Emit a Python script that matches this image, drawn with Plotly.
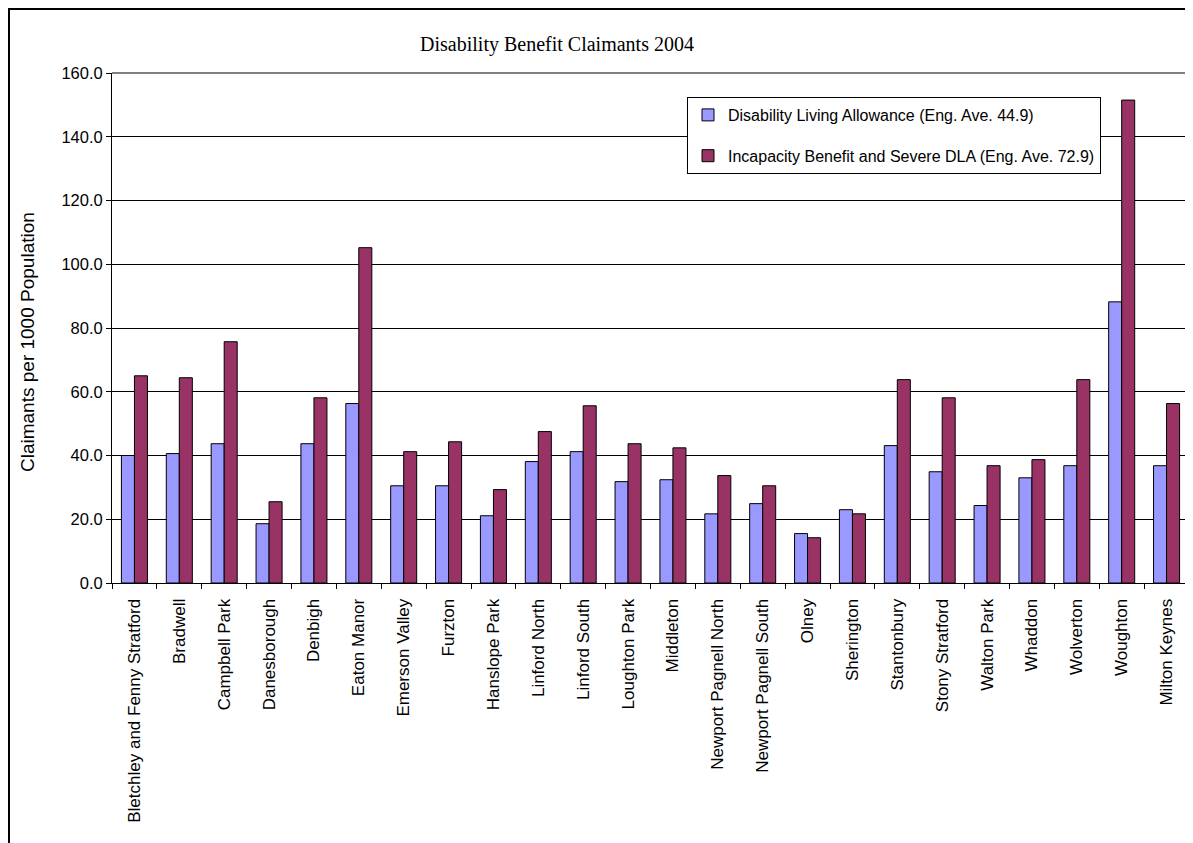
import plotly.graph_objects as go

categories = ["Bletchley and Fenny Stratford", "Bradwell", "Campbell Park", "Danesborough",
              "Denbigh", "Eaton Manor", "Emerson Valley", "Furzton", "Hanslope Park",
              "Linford North", "Linford South", "Loughton Park", "Middleton",
              "Newport Pagnell North", "Newport Pagnell South", "Olney", "Sherington",
              "Stantonbury", "Stony Stratford", "Walton Park", "Whaddon", "Wolverton",
              "Woughton", "Milton Keynes"]

dla = [40.0, 40.6, 43.7, 18.6, 43.7, 56.3, 30.5, 30.5, 21.1, 38.1, 41.2, 31.8, 32.4,
       21.7, 24.9, 15.5, 23.0, 43.1, 34.9, 24.3, 33.0, 36.8, 88.2, 36.8]
ib = [65.0, 64.4, 75.7, 25.5, 58.1, 105.2, 41.2, 44.3, 29.3, 47.5, 55.6, 43.7, 42.4,
      33.7, 30.5, 14.2, 21.7, 63.8, 58.1, 36.8, 38.7, 63.8, 151.5, 56.3]

series_names = ["Disability Living Allowance (Eng. Ave. 44.9)",
                "Incapacity Benefit and Severe DLA (Eng. Ave. 72.9)"]
colors = ["#9999FF", "#993366"]

# page body has an 8px margin; figure coordinates are page coordinates minus 8
OFF = 8
W, H = 1193 - OFF, 843 - OFF
L, T = 112 - OFF, 73 - OFF
R = W - (1189 - OFF)
B = H - (583 - OFF)
pw, ph = W - L - R, H - T - B

def px(xp):
    return (xp - OFF - L) / pw

def py(yp):
    return 1 - (yp - OFF - T) / ph

fig = go.Figure()
for i, (name, vals) in enumerate(zip(series_names, [dla, ib])):
    fig.add_trace(go.Bar(
        x=categories, y=vals, name=name, legendgroup=f"g{i}",
        marker=dict(color=colors[i], line=dict(color="black", width=1)),
    ))

fnt = "Arial, Liberation Sans, sans-serif"
fig.update_layout(
    width=W, height=H,
    margin=dict(l=L, r=R, t=T, b=B, autoexpand=False),
    paper_bgcolor="white", plot_bgcolor="white",
    barmode="group", bargap=0.42, bargroupgap=0,
    font=dict(family=fnt, color="black"),
    showlegend=True,
    legend=dict(
        x=px(687), y=py(97), xanchor="left", yanchor="top",
        bgcolor="white", bordercolor="black", borderwidth=1,
        font=dict(family=fnt, size=16, color="black"),
        tracegroupgap=17, itemwidth=30,
    ),
    title=dict(
        text="Disability Benefit Claimants 2004",
        font=dict(family="Times New Roman, Liberation Serif, serif", size=20, color="black"),
        x=(557 - OFF) / W, xanchor="center", y=1 - (44 - OFF) / H, yanchor="middle",
    ),
    xaxis=dict(
        type="category", showline=True, linecolor="black", linewidth=1,
        ticks="outside", ticklen=5, tickcolor="black", tickson="boundaries",
        tickangle=-90, tickfont=dict(family=fnt, size=17, color="black"),
        ticklabelstandoff=8, showgrid=False,
    ),
    yaxis=dict(
        range=[0, 160], tickvals=[0, 20, 40, 60, 80, 100, 120, 140, 160],
        tickformat=".1f", showline=True, linecolor="black", linewidth=1,
        ticks="outside", ticklen=5, tickcolor="black",
        tickfont=dict(family=fnt, size=16.5, color="black"),
        showgrid=True, gridcolor="black", gridwidth=1, zeroline=False,
    ),
    annotations=[dict(
        text="Claimants per 1000 Population", textangle=-90,
        xref="paper", yref="paper", x=px(27), y=py(342),
        xanchor="center", yanchor="middle", showarrow=False,
        font=dict(family=fnt, size=19, color="black"),
    )],
    shapes=[
        dict(type="line", xref="paper", yref="paper", x0=0, x1=1, y0=1, y1=1,
             line=dict(color="#808080", width=2)),
        dict(type="line", xref="paper", yref="paper", x0=1, x1=1, y0=0, y1=1,
             line=dict(color="#808080", width=2)),
        dict(type="rect", xref="paper", yref="paper",
             x0=(1 - L) / pw, x1=(W + 50 - L) / pw, y0=-(H + 50 - T - ph) / ph, y1=1 + (T - 1) / ph,
             line=dict(color="black", width=2), fillcolor="rgba(0,0,0,0)", layer="below"),
    ],
)

fig.write_html("out.html")
